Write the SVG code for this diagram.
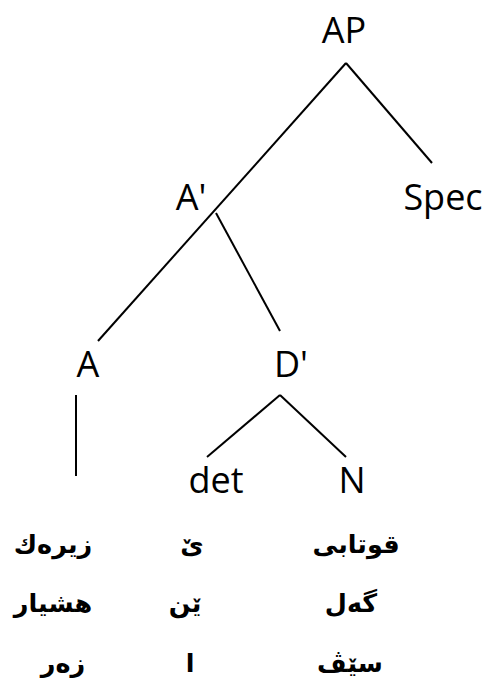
<svg xmlns="http://www.w3.org/2000/svg" width="485" height="686" viewBox="0 0 485 686">
<style>
.lbl{font-family:"Open Sans","Liberation Sans",sans-serif;font-size:36px;fill:#000;text-anchor:middle}
.ku{font-family:"DejaVu Sans","Noto Sans",sans-serif;font-size:25.5px;font-weight:bold;fill:#000;text-anchor:middle}
.edge{stroke:#000;stroke-width:2;fill:none}
</style>
<rect width="485" height="686" fill="#fff"/>
<g id="connectors">
<line class="edge" x1="346" y1="63" x2="98" y2="341"/>
<line class="edge" x1="346" y1="63" x2="432" y2="163"/>
<line class="edge" x1="216" y1="213" x2="280" y2="331"/>
<line class="edge" x1="76" y1="395" x2="76" y2="476"/>
<line class="edge" x1="280" y1="395" x2="207" y2="457"/>
<line class="edge" x1="280" y1="395" x2="346" y2="457"/>
</g>
<g id="AP"><text class="lbl" x="344" y="43">AP</text></g>
<g id="Abar"><text class="lbl" x="191" y="210">A'</text></g>
<g id="Spec"><text class="lbl" x="443" y="210">Spec</text></g>
<g id="A"><text class="lbl" x="88" y="377">A</text></g>
<g id="Dbar"><text class="lbl" x="291" y="377">D'</text></g>
<g id="det"><text class="lbl" x="216" y="493">det</text></g>
<g id="N"><text class="lbl" x="352" y="493">N</text></g>
<g id="words">
<text class="ku" x="53" y="553">زیرەك</text>
<text class="ku" x="192" y="553">ێ</text>
<text class="ku" x="356" y="553">قوتابی</text>
<text class="ku" x="53" y="612">هشیار</text>
<text class="ku" x="185" y="612">ێن</text>
<text class="ku" x="351" y="612">گەل</text>
<text class="ku" x="63" y="672">زەر</text>
<text class="ku" x="190" y="672">ا</text>
<text class="ku" x="350" y="672">سێڤ</text>
</g>
</svg>
